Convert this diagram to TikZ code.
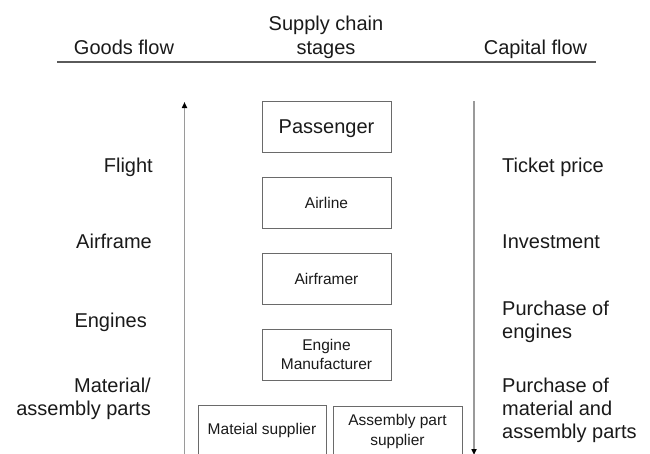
\documentclass[tikz,border=0pt]{standalone}
\usepackage{fontspec}
\setmainfont{Liberation Sans}
\usetikzlibrary{arrows.meta}
\definecolor{boxgray}{HTML}{6A6A6A}
\definecolor{linegray}{HTML}{9A9A9A}
\definecolor{headgray}{HTML}{5A5A5A}
\definecolor{txt}{HTML}{1A1A1A}
\begin{document}
\begin{tikzpicture}[x=1pt,y=-1pt,
  lbl/.style={font=\fontsize{20}{23}\selectfont, inner sep=0pt, text=txt},
  stage/.style={draw=boxgray, line width=1pt, minimum width=129pt, minimum height=51pt,
    inner sep=0pt, align=center, text=txt, font=\fontsize{15.5}{19}\selectfont},
  bigstage/.style={stage, font=\fontsize{20}{23}\selectfont},
  flow/.style={draw=linegray, line width=1.5pt,
    -{Triangle[width=5pt,length=6pt,fill=black,color=black]}},
  headline/.style={draw=headgray, line width=1.5pt}
]
\useasboundingbox (0,0) rectangle (650,453);
\clip (0,0) rectangle (650,453);
\fill[white] (0,0) rectangle (650,453);

% header
\node[lbl, anchor=base] (sc) at (326,30) {Supply chain};
\node[lbl, anchor=base] (st) at (326,54) {stages};
\node[lbl, anchor=base] (gf) at (124,54) {Goods flow};
\node[lbl, anchor=base] (cf) at (535.5,54) {Capital flow};
\coordinate (hl) at (57,62);
\coordinate (hr) at (596,62);
\draw[headline] (hl) -- (hr);

% stages
\node[bigstage, text depth=0pt] (pas) at (326.5,126.5) {Passenger};
\node[stage] (air) at (326.5,202.5) {Airline};
\node[stage] (afr) at (326.5,278.5) {Airframer};
\node[stage] (eng) at (326.5,354.5) {Engine\\Manufacturer};
\node[stage, minimum width=128pt] (mat) at (262,430.5) {Mateial supplier};
\node[stage, font=\fontsize{15.5}{20}\selectfont] (asm) at (397.5,431.5) {Assembly part\\supplier};

% flows
\coordinate (gb) at (184.5,470);
\coordinate (gt) at (184.5,102);
\draw[flow] (gb) -- (gt);
\coordinate (ct) at (474,101);
\coordinate (cb) at (474,455);
\draw[flow] (ct) -- (cb);

% goods flow labels
\node[lbl, anchor=base east] (l1) at (153,172) {Flight};
\node[lbl, anchor=base east] (l2) at (152,248) {Airframe};
\node[lbl, anchor=base east] (l3) at (147,327) {Engines};
\node[lbl, anchor=base east] (l4) at (151,392)
  {\begin{tabular}[t]{@{}r@{}}Material/\\assembly parts\end{tabular}};

% capital flow labels
\node[lbl, anchor=base west] (r1) at (502,172) {Ticket price};
\node[lbl, anchor=base west] (r2) at (502,248) {Investment};
\node[lbl, anchor=base west] (r3) at (502,315)
  {\begin{tabular}[t]{@{}l@{}}Purchase of\\engines\end{tabular}};
\node[lbl, anchor=base west] (r4) at (502,392)
  {\begin{tabular}[t]{@{}l@{}}Purchase of\\material and\\assembly parts\end{tabular}};
\end{tikzpicture}
\end{document}
